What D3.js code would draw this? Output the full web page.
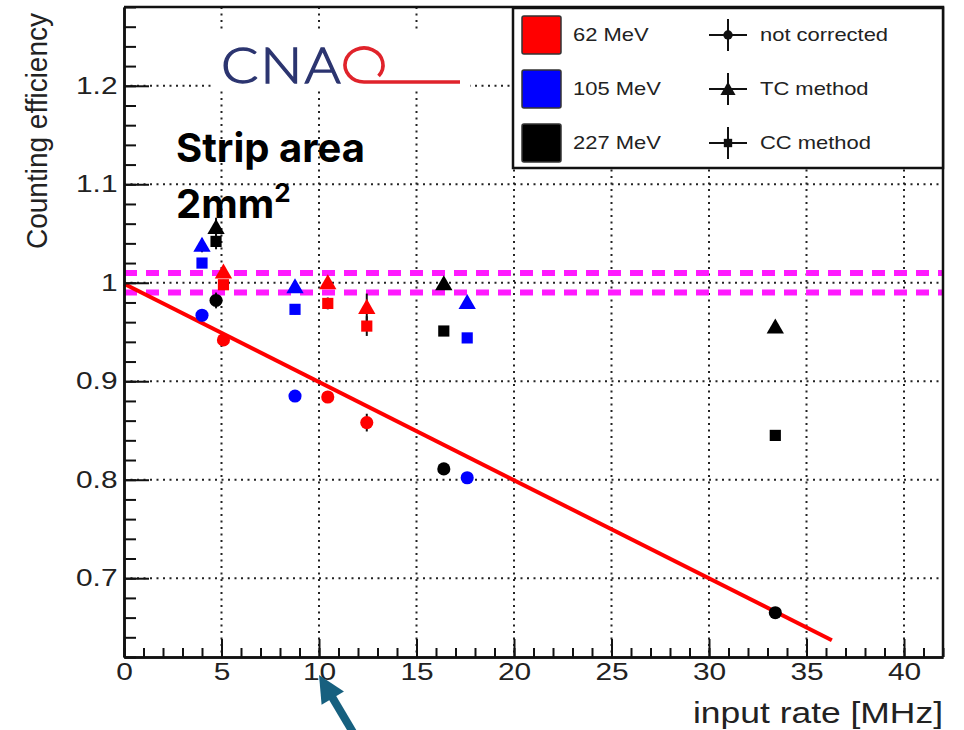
<!DOCTYPE html>
<html>
<head>
<meta charset="utf-8">
<title>Counting efficiency</title>
<script src="https://cdn.jsdelivr.net/npm/d3@7"></script>
<style>
    body { margin: 0; background: #fff; }
    #chart { width: 964px; height: 730px; }
    .axis text, .legend text, .axisLabel { font-family: "Liberation Sans", Arial, sans-serif; fill: #222; }
    .axis path, .axis line { stroke: #111; }
</style>
</head>
<body>
<div id="chart"></div>
<script>
// ---- data ----
const energies = ["62 MeV", "105 MeV", "227 MeV"];
const energyColors = ["#ff0000", "#0000ff", "#000000"];
const methods = ["not corrected", "TC method", "CC method"];

const rate62 = [5.1, 10.45, 12.45];
const notCorr62 = [0.942, 0.884, 0.858];
const notCorrErr62 = [0.002, 0.003, 0.009];
const tc62 = [1.011, 1.000, 0.975];
const tcErr62 = [0.006, 0.004, 0.014];
const cc62 = [0.998, 0.979, 0.956];
const ccErr62 = [0.005, 0.006, 0.010];

const rate105 = [4.0, 8.77, 17.6];
const notCorr105 = [0.967, 0.885, 0.802];
const notCorrErr105 = [0.006, 0.002, 0.002];
const tc105 = [1.038, 0.996, 0.980];
const tcErr105 = [0.007, 0.003, 0.002];
const cc105 = [1.020, 0.973, 0.944];
const ccErr105 = [0.005, 0.005, 0.002];

const rate227 = [4.72, 16.4, 33.4];
const notCorr227 = [0.982, 0.811, 0.665];
const notCorrErr227 = [0.008, 0.002, 0.002];
const tc227 = [1.056, 0.999, 0.955];
const tcErr227 = [0.010, 0.002, 0.002];
const cc227 = [1.042, 0.951, 0.845];
const ccErr227 = [0.008, 0.002, 0.002];

// linear fit of the not corrected points
const fitRate = [0, 36.3];
const fitEff = [0.999, 0.637];

// +-1% band
const bandLimits = [1.01, 0.99];

const xTicks = [0, 5, 10, 15, 20, 25, 30, 35, 40];
const yTicks = [0.7, 0.8, 0.9, 1, 1.1, 1.2];


class EfficiencyVis {

    constructor(parentElement) {
        this.parentElement = parentElement;
        this.shapes = [d3.symbolCircle, d3.symbolTriangle, d3.symbolSquare];
        this.shapeSizes = [135, 130, 125];

        // flatten arrays into points
        let rates = [rate62, rate105, rate227];
        let values = [[notCorr62, tc62, cc62], [notCorr105, tc105, cc105], [notCorr227, tc227, cc227]];
        let errors = [[notCorrErr62, tcErr62, ccErr62], [notCorrErr105, tcErr105, ccErr105], [notCorrErr227, tcErr227, ccErr227]];
        this.points = [];
        rates.forEach((r, e) => {
            values[e].forEach((vals, m) => {
                vals.forEach((v, i) => this.points.push({rate: r[i], eff: v, err: errors[e][m][i], energy: e, method: m}));
            });
        });

        this.initVis();
    }

    initVis() {
        let vis = this;

        vis.margin = {top: 7, right: 21, bottom: 73, left: 124};
        vis.width = 964 - vis.margin.left - vis.margin.right;
        vis.height = 730 - vis.margin.top - vis.margin.bottom;

        vis.root = d3.select("#" + vis.parentElement).append("svg")
            .attr("width", 964)
            .attr("height", 730);

        vis.svg = vis.root.append("g")
            .attr("transform", `translate(${vis.margin.left}, ${vis.margin.top})`);

        // Scales
        vis.x = d3.scaleLinear().domain([0, 42]).range([0, vis.width]);
        vis.y = d3.scaleLinear().domain([0.62, 1.28]).range([vis.height, 0]);

        // dotted grid
        vis.svg.append("g").selectAll("line.vgrid")
            .data(xTicks.filter(d => d > 0))
            .enter().append("line")
            .attr("x1", d => vis.x(d)).attr("x2", d => vis.x(d))
            .attr("y1", 0).attr("y2", vis.height)
            .attr("stroke", "#222").attr("stroke-width", 2)
            .attr("stroke-dasharray", "2,4.5");

        vis.svg.append("g").selectAll("line.hgrid")
            .data(yTicks)
            .enter().append("line")
            .attr("x1", 0).attr("x2", vis.width)
            .attr("y1", d => vis.y(d)).attr("y2", d => vis.y(d))
            .attr("stroke", "#222").attr("stroke-width", 2)
            .attr("stroke-dasharray", "2,4.5");

        // magenta band
        vis.svg.append("g").selectAll("line.band")
            .data(bandLimits)
            .enter().append("line")
            .attr("x1", 0).attr("x2", vis.width)
            .attr("y1", d => vis.y(d)).attr("y2", d => vis.y(d))
            .attr("stroke", "#ff1aff").attr("stroke-width", 6)
            .attr("stroke-dasharray", "13,9");

        // fit line
        let line = d3.line().x(d => vis.x(d[0])).y(d => vis.y(d[1]));
        vis.svg.append("path")
            .datum(d3.zip(fitRate, fitEff))
            .attr("d", line)
            .attr("fill", "none")
            .attr("stroke", "#ff0000")
            .attr("stroke-width", 4);

        // error bars
        vis.svg.append("g").selectAll("line.err")
            .data(vis.points)
            .enter().append("line")
            .attr("x1", d => vis.x(d.rate)).attr("x2", d => vis.x(d.rate))
            .attr("y1", d => vis.y(d.eff - d.err)).attr("y2", d => vis.y(d.eff + d.err))
            .attr("stroke", "#111").attr("stroke-width", 2);

        // markers
        vis.svg.append("g").selectAll("path.marker")
            .data(vis.points)
            .enter().append("path")
            .attr("transform", d => `translate(${vis.x(d.rate)}, ${vis.y(d.eff) + (d.method === 1 ? 1.5 : 0)})`)
            .attr("d", d => d3.symbol().type(vis.shapes[d.method]).size(vis.shapeSizes[d.method])())
            .attr("fill", d => energyColors[d.energy]);

        // axes
        let xAxisMinor = d3.axisBottom(vis.x).tickValues(d3.range(0, 43, 1)).tickSize(-9).tickSizeOuter(0).tickFormat("");
        let xAxis = d3.axisBottom(vis.x).tickValues(xTicks).tickSize(-18).tickSizeOuter(0).tickPadding(7).tickFormat(d3.format("~g"));
        let yAxisMinor = d3.axisLeft(vis.y).tickValues(d3.range(0.62, 1.281, 0.02)).tickSize(-12).tickSizeOuter(0).tickFormat("");
        let yAxis = d3.axisLeft(vis.y).tickValues(yTicks).tickSize(-25).tickSizeOuter(0).tickPadding(5).tickFormat(d3.format("~g"));

        let gx = vis.svg.append("g").attr("class", "axis").attr("transform", `translate(0, ${vis.height})`);
        gx.append("g").call(xAxisMinor);
        gx.append("g").call(xAxis);
        gx.selectAll(".domain").attr("stroke-width", 2.5);
        gx.selectAll(".tick line").attr("stroke-width", 2);
        gx.selectAll("text")
            .attr("font-size", 23)
            .attr("transform", "scale(1.3,1)");

        let gy = vis.svg.append("g").attr("class", "axis");
        gy.append("g").call(yAxisMinor);
        gy.append("g").call(yAxis);
        gy.selectAll(".domain").attr("stroke-width", 2.5);
        gy.selectAll(".tick line").attr("stroke-width", 2);
        gy.selectAll("text")
            .attr("font-size", 23)
            .attr("transform", "scale(1.3,1)");

        // frame top / right
        vis.svg.append("path")
            .attr("d", `M0,0H${vis.width}V${vis.height}`)
            .attr("fill", "none").attr("stroke", "#111").attr("stroke-width", 2.5);

        // axis titles
        vis.root.append("text")
            .attr("class", "axisLabel")
            .attr("x", 943).attr("y", 723)
            .attr("text-anchor", "end")
            .attr("font-size", 29)
            .attr("textLength", 250)
            .attr("lengthAdjust", "spacingAndGlyphs")
            .text("input rate [MHz]");

        vis.root.append("text")
            .attr("class", "axisLabel")
            .attr("transform", "translate(47, 131) rotate(-90) scale(1, 1.15)")
            .attr("text-anchor", "middle")
            .attr("font-size", 26)
            .attr("textLength", 236)
            .attr("lengthAdjust", "spacingAndGlyphs")
            .text("Counting efficiency");

        vis.drawLegend();
        vis.drawAnnotations();
    }

    drawLegend() {
        let vis = this;

        vis.legend = vis.root.append("g")
            .attr("class", "legend")
            .attr("transform", "translate(513, 8)");

        vis.legend.append("rect")
            .attr("width", 430).attr("height", 160)
            .attr("fill", "#fff").attr("stroke", "#111").attr("stroke-width", 2.5);

        let rowY = i => 27 + i * 54;

        vis.legend.selectAll(".swatch")
            .data(energies)
            .enter().append("rect")
            .attr("class", "swatch")
            .attr("x", 9).attr("y", (d, i) => rowY(i) - 19)
            .attr("width", 39).attr("height", 38)
            .attr("rx", 2)
            .attr("fill", (d, i) => energyColors[i])
            .attr("stroke", "#333").attr("stroke-width", 1.5);

        vis.legend.selectAll(".elabel")
            .data(energies)
            .enter().append("text")
            .attr("class", "elabel")
            .attr("transform", (d, i) => `translate(60, ${rowY(i) + 6}) scale(1.22,1)`)
            .attr("font-size", 18)
            .text(d => d);

        let glyph = vis.legend.selectAll(".glyph")
            .data(methods)
            .enter().append("g")
            .attr("class", "glyph")
            .attr("transform", (d, i) => `translate(215, ${rowY(i)})`);
        glyph.append("line").attr("x1", -19).attr("x2", 19).attr("stroke", "#111").attr("stroke-width", 2);
        glyph.append("line").attr("y1", -16).attr("y2", 16).attr("stroke", "#111").attr("stroke-width", 2);
        glyph.append("path")
            .attr("transform", (d, i) => i === 1 ? "translate(0,1.5)" : null)
            .attr("d", (d, i) => d3.symbol().type(vis.shapes[i]).size(i === 1 ? 100 : 70)())
            .attr("fill", "#111");

        vis.legend.selectAll(".mlabel")
            .data(methods)
            .enter().append("text")
            .attr("class", "mlabel")
            .attr("transform", (d, i) => `translate(247, ${rowY(i) + 6}) scale(1.22,1)`)
            .attr("font-size", 18)
            .text(d => d);
    }

    drawAnnotations() {
        let vis = this;

        // CNAO logo
        let logo = vis.root.append("g");
        logo.append("rect")
            .attr("x", 212).attr("y", 30).attr("width", 258).attr("height", 60)
            .attr("fill", "#fff");
        logo.append("text")
            .attr("x", 221).attr("y", 83)
            .attr("font-family", "Lato, 'Open Sans', sans-serif")
            .attr("font-weight", 300)
            .attr("font-size", 49)
            .attr("letter-spacing", 2)
            .attr("fill", "#2c3570")
            .attr("stroke", "#2c3570")
            .attr("stroke-width", 1.3)
            .attr("textLength", 122)
            .attr("lengthAdjust", "spacingAndGlyphs")
            .text("CNA");
        let cx = 364, cy = 65, rx = 19, ry = 17;
        let a = 40 * Math.PI / 180;
        logo.append("path")
            .attr("d", `M${cx + rx * Math.cos(a)},${cy + ry * Math.sin(a)} A${rx},${ry} 0 1 0 ${cx},${cy + ry} H460`)
            .attr("fill", "none")
            .attr("stroke", "#e0232b")
            .attr("stroke-width", 3.6);

        // Strip area label
        let strip = vis.root.append("text")
            .attr("font-family", "Inter, Roboto, sans-serif")
            .attr("font-weight", 700)
            .attr("font-size", 40)
            .attr("fill", "#000");
        strip.append("tspan").attr("x", 176).attr("y", 162).text("Strip area");
        strip.append("tspan").attr("x", 176).attr("y", 218).text("2mm");
        strip.append("tspan").attr("dy", -16).attr("font-size", 26).text("2");

        // arrow pointing at 10 MHz
        let tipX = vis.margin.left + vis.x(10.0), tipY = 675;
        let tailX = tipX + 35, tailY = 734;
        let len = Math.hypot(tailX - tipX, tailY - tipY);
        let ux = (tipX - tailX) / len, uy = (tipY - tailY) / len;
        let bx = tipX - 27 * ux, by = tipY - 27 * uy;
        vis.root.append("line")
            .attr("x1", tailX).attr("y1", tailY).attr("x2", bx + 3 * ux).attr("y2", by + 3 * uy)
            .attr("stroke", "#17607f").attr("stroke-width", 8);
        vis.root.append("path")
            .attr("d", `M${tipX},${tipY} L${bx - 13 * uy},${by + 13 * ux} L${bx + 13 * uy},${by - 13 * ux} Z`)
            .attr("fill", "#17607f");
    }
}

new EfficiencyVis("chart");
</script>
</body>
</html>
